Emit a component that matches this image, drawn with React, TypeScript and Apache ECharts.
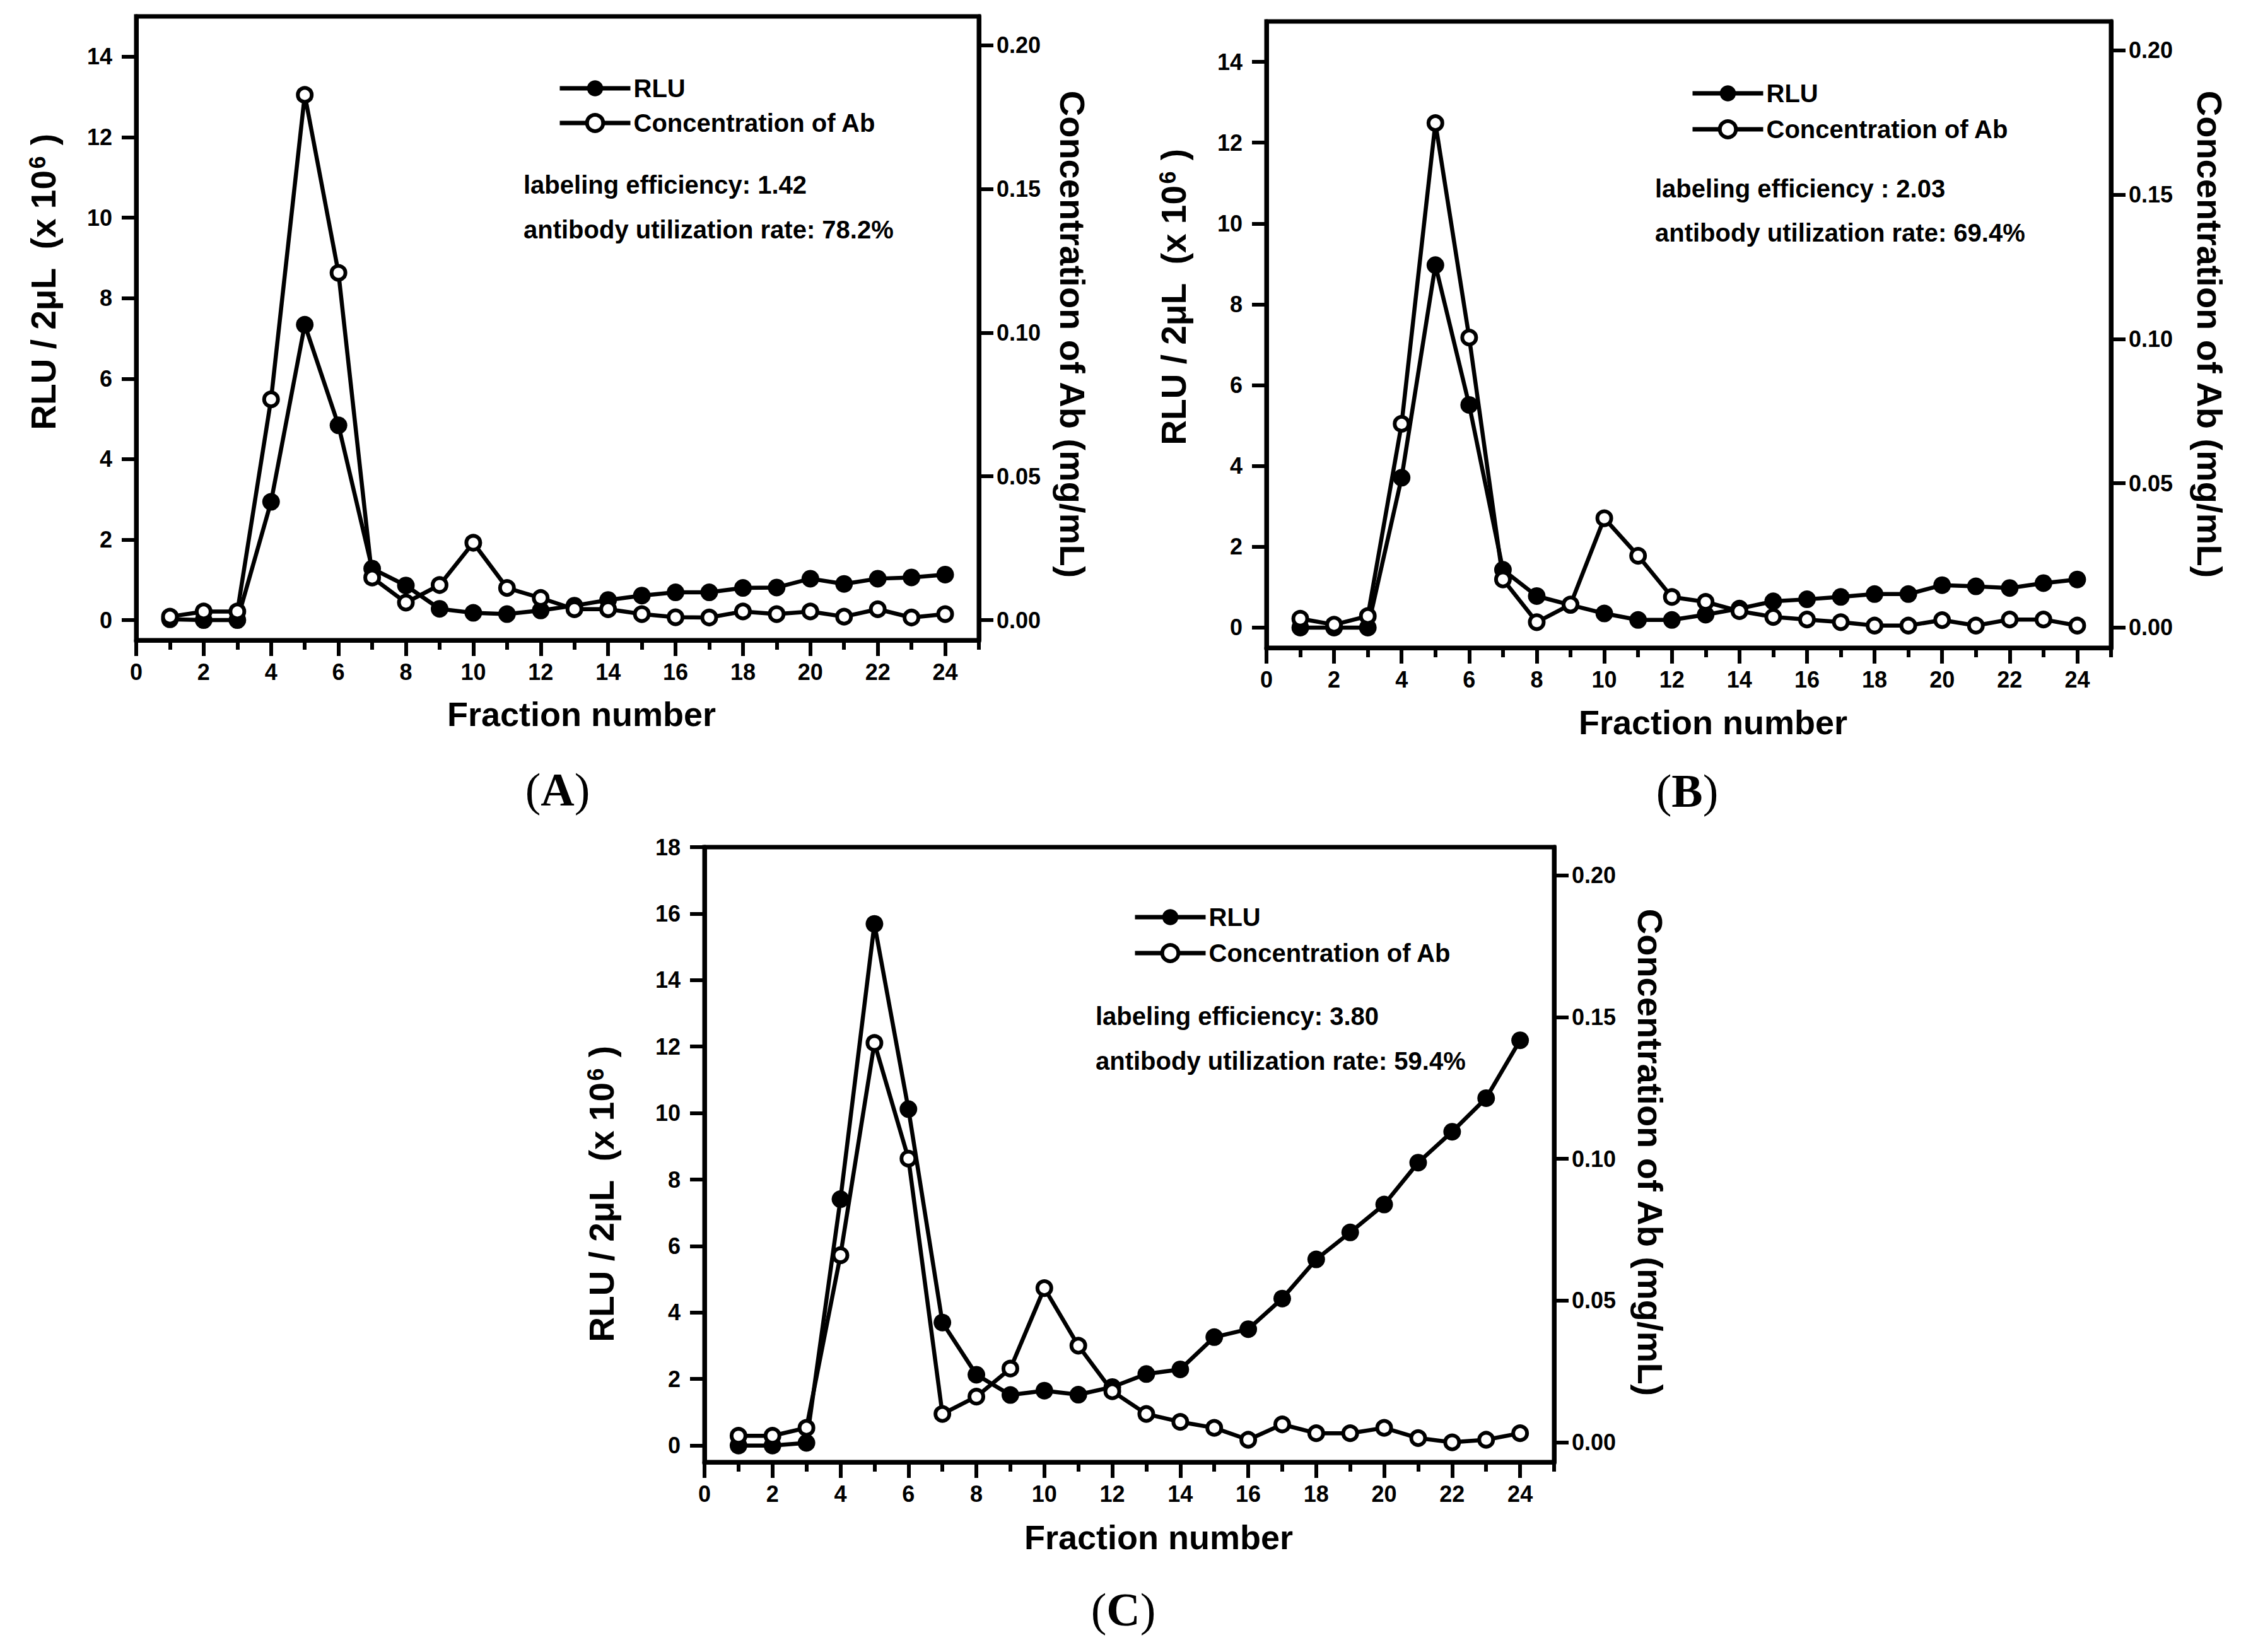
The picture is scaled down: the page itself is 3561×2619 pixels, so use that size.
import React, { useEffect, useRef } from "react";
import * as echarts from "echarts";

// ---------- data ----------
const fractions = [1, 2, 3, 4, 5, 6, 7, 8, 9, 10, 11, 12, 13, 14, 15, 16, 17, 18, 19, 20, 21, 22, 23, 24];

const xTickValues = [0, 2, 4, 6, 8, 10, 12, 14, 16, 18, 20, 22, 24];
const xMinorTickValues = [1, 3, 5, 7, 9, 11, 13, 15, 17, 19, 21, 23, 25];
const rluTicksAB = [0, 2, 4, 6, 8, 10, 12, 14];
const rluTicksC = [0, 2, 4, 6, 8, 10, 12, 14, 16, 18];
const concTicks = [0, 0.05, 0.1, 0.15, 0.2];

const rluA = [0.02, 0.0, 0.0, 2.94, 7.34, 4.84, 1.28, 0.86, 0.28, 0.18, 0.15, 0.24, 0.36, 0.5, 0.61, 0.69, 0.69, 0.8, 0.81, 1.03, 0.9, 1.03, 1.06, 1.13];
const concA = [0.0012, 0.003, 0.003, 0.0768, 0.1827, 0.1208, 0.0148, 0.0061, 0.0122, 0.0269, 0.0112, 0.0077, 0.0038, 0.0038, 0.0021, 0.001, 0.0009, 0.003, 0.0021, 0.003, 0.0012, 0.0038, 0.0009, 0.0021];

const rluB = [0, 0, 0, 3.71, 8.97, 5.51, 1.43, 0.78, 0.56, 0.35, 0.19, 0.19, 0.32, 0.47, 0.65, 0.7, 0.76, 0.83, 0.83, 1.05, 1.02, 0.98, 1.1, 1.19];
const concB = [0.0031, 0.001, 0.004, 0.0706, 0.1748, 0.1005, 0.0167, 0.0019, 0.008, 0.0379, 0.0249, 0.0106, 0.0089, 0.0057, 0.0037, 0.0028, 0.0019, 0.0007, 0.0007, 0.0026, 0.0007, 0.0028, 0.0028, 0.0007];

const rluC = [0, 0, 0.08, 7.41, 15.69, 10.12, 3.7, 2.13, 1.52, 1.65, 1.53, 1.76, 2.15, 2.29, 3.26, 3.5, 4.42, 5.6, 6.41, 7.25, 8.51, 9.44, 10.45, 12.19];
const concC = [0.0023, 0.0023, 0.0051, 0.066, 0.1409, 0.1001, 0.01, 0.0161, 0.026, 0.0544, 0.0341, 0.018, 0.01, 0.0072, 0.0051, 0.0009, 0.0063, 0.0032, 0.0032, 0.0051, 0.0015, 0.0, 0.0009, 0.0032];

const panelLetters = ["A", "B", "C"];
const efficiencyTexts = ["labeling efficiency: 1.42", "labeling efficiency : 2.03", "labeling efficiency: 3.80"];
const utilizationTexts = ["antibody utilization rate: 78.2%", "antibody utilization rate: 69.4%", "antibody utilization rate: 59.4%"];
const seriesNames = ["RLU", "Concentration of Ab"];
const xAxisTitle = "Fraction number";
const rightAxisTitle = "Concentration of Ab (mg/mL)";

// ---------- layout (positions / sizes) ----------
const FONT = "'Liberation Sans', Arial, Helvetica, sans-serif";
const SERIF = "'Liberation Serif', 'Times New Roman', serif";

const layout = [
  {
    grid: { left: 216, top: 26, right: 1552, bottom: 1015 },
    rluMax: 15, rluTicks: rluTicksAB, rlu: rluA, conc: concA,
    legend: { left: 884, row1: 140, gap: 55 },
    notes: { x: 830, y1: 293, y2: 364 },
    leftTitle: { x: 69, y: 447 },
    rightTitle: { x: 1700, y: 530 },
    xTitle: { x: 922, y: 1132 },
    letter: { x: 884, y: 1252 },
  },
  {
    grid: { left: 2008, top: 34, right: 3347, bottom: 1027 },
    rluMax: 15, rluTicks: rluTicksAB, rlu: rluB, conc: concB,
    legend: { left: 2680, row1: 148, gap: 57 },
    notes: { x: 2624, y1: 299, y2: 369 },
    leftTitle: { x: 1861, y: 471 },
    rightTitle: { x: 3503, y: 530 },
    xTitle: { x: 2716, y: 1145 },
    letter: { x: 2675, y: 1254 },
  },
  {
    grid: { left: 1117, top: 1343, right: 2464, bottom: 2318 },
    rluMax: 18, rluTicks: rluTicksC, rlu: rluC, conc: concC,
    legend: { left: 1796, row1: 1454, gap: 57 },
    notes: { x: 1737, y1: 1611, y2: 1682 },
    leftTitle: { x: 954, y: 1893 },
    rightTitle: { x: 2616, y: 1827 },
    xTitle: { x: 1837, y: 2437 },
    letter: { x: 1781, y: 2552 },
  },
];

const AXIS_W = 7;
const TICK_W = 6;
const LINE_W = 6.5;

function buildOption() {
  const grids: any[] = [];
  const xAxes: any[] = [];
  const yAxes: any[] = [];
  const series: any[] = [];
  const legends: any[] = [];
  const graphics: any[] = [];

  const tickLabel = { fontSize: 36, fontWeight: "bold", color: "#000", fontFamily: FONT };
  const axisLineStyle = { color: "#000", width: AXIS_W };
  const tickStyle = { color: "#000", width: TICK_W };

  layout.forEach((p, i) => {
    const g = p.grid;
    grids.push({
      left: g.left, top: g.top, width: g.right - g.left, height: g.bottom - g.top,
      show: true, borderColor: "#000", borderWidth: AXIS_W, backgroundColor: "transparent",
    });

    xAxes.push({
      gridIndex: i, type: "value", position: "bottom", min: 0, max: 25,
      axisLine: { show: true, onZero: false, lineStyle: axisLineStyle },
      axisTick: { show: true, customValues: xTickValues, length: 25, lineStyle: tickStyle },
      axisLabel: { show: true, customValues: xTickValues, margin: 32, ...tickLabel },
      splitLine: { show: false },
    });
    xAxes.push({
      gridIndex: i, type: "value", position: "bottom", min: 0, max: 25,
      axisLine: { show: false, onZero: false },
      axisTick: { show: true, customValues: xMinorTickValues, length: 15, lineStyle: tickStyle },
      axisLabel: { show: false },
      splitLine: { show: false },
    });

    yAxes.push({
      gridIndex: i, type: "value", position: "left", min: -0.5, max: p.rluMax,
      axisLine: { show: true, onZero: false, lineStyle: axisLineStyle },
      axisTick: { show: true, customValues: p.rluTicks, length: 23, lineStyle: tickStyle },
      axisLabel: { show: true, customValues: p.rluTicks, margin: 38, ...tickLabel },
      splitLine: { show: false },
    });
    yAxes.push({
      gridIndex: i, type: "value", position: "right", min: -0.007, max: 0.21,
      axisLine: { show: true, onZero: false, lineStyle: axisLineStyle },
      axisTick: { show: true, customValues: concTicks, length: 23, lineStyle: tickStyle },
      axisLabel: {
        show: true, customValues: concTicks, margin: 28, ...tickLabel,
        formatter: (v: number) => v.toFixed(2),
      },
      splitLine: { show: false },
    });

    series.push({
      type: "line", name: seriesNames[0], xAxisIndex: 2 * i, yAxisIndex: 2 * i,
      data: fractions.map((f, k) => [f, p.rlu[k]]),
      symbol: "circle", symbolSize: 28,
      itemStyle: { color: "#000" },
      lineStyle: { color: "#000", width: LINE_W },
      z: 3,
    });
    series.push({
      type: "line", name: seriesNames[1], xAxisIndex: 2 * i, yAxisIndex: 2 * i + 1,
      data: fractions.map((f, k) => [f, p.conc[k]]),
      symbol: "circle", symbolSize: 22,
      itemStyle: { color: "#fff", borderColor: "#000", borderWidth: 6 },
      lineStyle: { color: "#000", width: LINE_W },
      z: 4,
    });

    legends.push({
      orient: "vertical", left: p.legend.left, top: p.legend.row1 - 20,
      itemWidth: 112, itemHeight: 32, itemGap: p.legend.gap - 40,
      selectedMode: false, padding: 0,
      textStyle: { fontSize: 40, fontWeight: "bold", color: "#000", fontFamily: FONT },
      data: [
        { name: seriesNames[0], itemStyle: { color: "#000", borderWidth: 0 }, lineStyle: { color: "#000", width: 7 } },
        { name: seriesNames[1], itemStyle: { color: "#fff", borderColor: "#000", borderWidth: 6 }, lineStyle: { color: "#000", width: 7 } },
      ],
    });

    const noteStyle = { fill: "#000", fontSize: 40, fontWeight: "bold", fontFamily: FONT, textAlign: "left", textVerticalAlign: "middle" };
    graphics.push({ type: "text", x: p.notes.x, y: p.notes.y1, style: { ...noteStyle, text: efficiencyTexts[i] } });
    graphics.push({ type: "text", x: p.notes.x, y: p.notes.y2, style: { ...noteStyle, text: utilizationTexts[i] } });

    graphics.push({
      type: "text", x: p.xTitle.x, y: p.xTitle.y,
      style: { text: xAxisTitle, fill: "#000", fontSize: 54, fontWeight: "bold", fontFamily: FONT, textAlign: "center", textVerticalAlign: "middle" },
    });

    graphics.push({
      type: "text", x: p.rightTitle.x, y: p.rightTitle.y, rotation: -Math.PI / 2,
      style: { text: rightAxisTitle, fill: "#000", fontSize: 56, fontWeight: "bold", fontFamily: FONT, textAlign: "center", textVerticalAlign: "middle" },
    });

    graphics.push({
      type: "text", x: p.leftTitle.x, y: p.leftTitle.y, rotation: Math.PI / 2,
      style: {
        text: "{a|RLU / 2μL  (x 10}{s|6}{a| )}",
        fill: "#000", fontFamily: FONT, fontWeight: "bold", fontSize: 55,
        textAlign: "center", textVerticalAlign: "middle",
        rich: {
          a: { fontSize: 55, fontWeight: "bold", fontFamily: FONT, fill: "#000", lineHeight: 55, verticalAlign: "bottom" },
          s: { fontSize: 36, fontWeight: "bold", fontFamily: FONT, fill: "#000", lineHeight: 36, verticalAlign: "top", padding: [0, 2, 38, 2] },
        },
      },
    });

    graphics.push({
      type: "text", x: p.letter.x, y: p.letter.y,
      style: {
        text: "{p|(}{b|" + panelLetters[i] + "}{p|)}",
        fill: "#000", fontFamily: SERIF, fontSize: 74,
        textAlign: "center", textVerticalAlign: "middle",
        rich: {
          p: { fontFamily: SERIF, fontSize: 74, fontWeight: "normal", fill: "#000" },
          b: { fontFamily: SERIF, fontSize: 74, fontWeight: "bold", fill: "#000" },
        },
      },
    });
  });

  return {
    animation: false,
    backgroundColor: "#fff",
    textStyle: { fontFamily: FONT },
    grid: grids,
    xAxis: xAxes,
    yAxis: yAxes,
    legend: legends,
    series,
    graphic: { elements: graphics },
  };
}

export default function App() {
  const ref = useRef<HTMLDivElement>(null);
  useEffect(() => {
    if (!ref.current) return;
    const chart = echarts.init(ref.current, null, { renderer: "svg" });
    chart.setOption(buildOption() as any);
    return () => chart.dispose();
  }, []);
  return (
    <div
      ref={ref}
      style={{ position: "absolute", left: 0, top: 0, width: 3561, height: 2619, background: "#fff" }}
    />
  );
}
